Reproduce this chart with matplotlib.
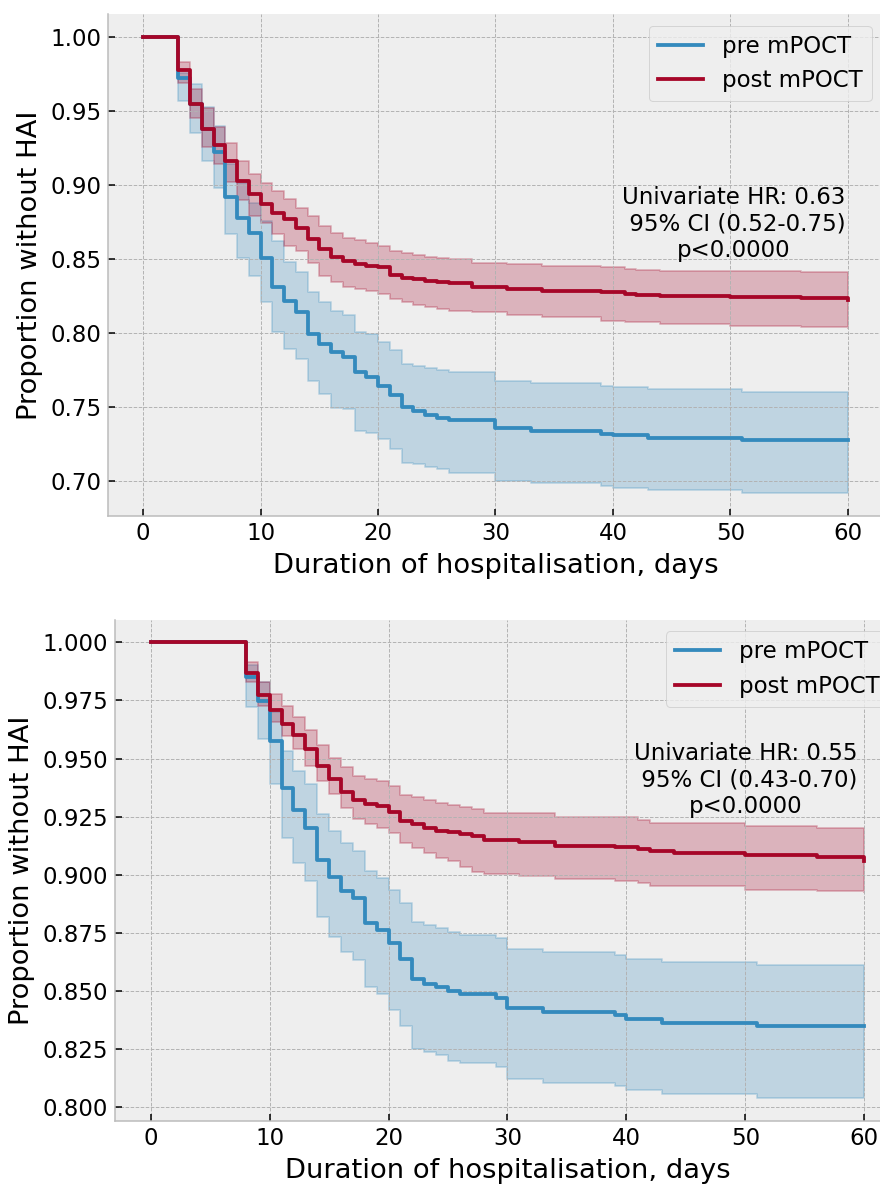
import numpy as np
import matplotlib
matplotlib.use("Agg")
import matplotlib.pyplot as plt

plt.style.use("bmh")
plt.rcParams["font.size"] = 12

t_end = 60
labels = ["pre mPOCT", "post mPOCT"]

# --- upper panel ---
top_pre_t = [0, 3, 4, 5, 6, 7, 8, 9, 10, 11, 12, 13, 14, 15, 16, 17, 18, 19, 20, 21, 22, 23, 24, 25, 26,
             30, 33, 39, 40, 43, 51]
top_pre_s = [1.0, 0.9725, 0.9545, 0.938, 0.922, 0.892, 0.878, 0.8679, 0.851, 0.8308, 0.8218, 0.814, 0.7993,
             0.7926, 0.787, 0.7836, 0.7735, 0.7701, 0.7645, 0.7578, 0.7499, 0.7476, 0.7447, 0.7429, 0.7413,
             0.7361, 0.7339, 0.7320, 0.7309, 0.7293, 0.7275]
top_pre_hi = [1.0, 0.976, 0.968, 0.9527, 0.94, 0.914, 0.9016, 0.888, 0.8757, 0.862, 0.8477, 0.841, 0.8274,
              0.8207, 0.815, 0.8121, 0.8004, 0.7993, 0.7936, 0.7884, 0.779, 0.7778, 0.7763, 0.7749, 0.7734,
              0.7677, 0.7659, 0.7643, 0.7632, 0.7621, 0.7603]
top_pre_lo = [1.0, 0.9568, 0.935, 0.916, 0.898, 0.8667, 0.851, 0.8387, 0.8207, 0.8004, 0.7891, 0.7823, 0.7677,
              0.7587, 0.7496, 0.749, 0.7339, 0.7327, 0.7282, 0.7214, 0.7124, 0.7113, 0.7095, 0.708, 0.7056,
              0.70, 0.6984, 0.6966, 0.695, 0.6937, 0.6921]

top_post_t = [0, 3, 4, 5, 6, 7, 8, 9, 10, 11, 12, 13, 14, 15, 16, 17, 18, 19, 20, 21, 22, 23, 24, 25, 26,
              28, 31, 34, 39, 41, 42, 44, 50, 56, 60]
top_post_s = [1.0, 0.978, 0.9545, 0.938, 0.927, 0.916, 0.903, 0.8937, 0.887, 0.8813, 0.8769, 0.8712, 0.8634,
              0.8566, 0.8515, 0.8488, 0.8465, 0.8454, 0.8443, 0.8393, 0.8375, 0.8364, 0.8353, 0.8346, 0.8335,
              0.8314, 0.8298, 0.8287, 0.8278, 0.8264, 0.8258, 0.8252, 0.8244, 0.8235, 0.8226]
top_post_hi = [1.0, 0.9833, 0.9646, 0.952, 0.939, 0.9286, 0.916, 0.9072, 0.9016, 0.896, 0.8903, 0.8847, 0.8791,
               0.8724, 0.8679, 0.8645, 0.8627, 0.8611, 0.8589, 0.8555, 0.8544, 0.8528, 0.8515, 0.8506, 0.850,
               0.8472, 0.8465, 0.8456, 0.8445, 0.8433, 0.8428, 0.8422, 0.8418, 0.8409, 0.8405]
top_post_lo = [1.0, 0.969, 0.945, 0.926, 0.914, 0.902, 0.890, 0.879, 0.8746, 0.8667, 0.8589, 0.8555, 0.8476,
               0.8387, 0.8342, 0.8308, 0.8297, 0.8285, 0.8263, 0.8229, 0.8207, 0.8191, 0.8178, 0.8162, 0.8152,
               0.814, 0.8125, 0.8106, 0.8079, 0.8075, 0.8072, 0.806, 0.805, 0.8043, 0.8035]

# --- lower panel ---
bot_pre_t = [0, 8, 9, 10, 11, 12, 13, 14, 15, 16, 17, 18, 19, 20, 21, 22, 23, 24, 25, 26,
             29, 30, 33, 39, 40, 43, 51]
bot_pre_s = [1.0, 0.9851, 0.9747, 0.9574, 0.9373, 0.9277, 0.920, 0.9065, 0.8988, 0.893, 0.8898, 0.8793,
             0.8762, 0.8704, 0.8639, 0.855, 0.8531, 0.8517, 0.850, 0.8486, 0.8471, 0.8428, 0.8409, 0.8395,
             0.8381, 0.8362, 0.8348]
bot_pre_hi = [1.0, 0.9901, 0.9829, 0.970, 0.9534, 0.9448, 0.939, 0.926, 0.9189, 0.9138, 0.9102, 0.9016,
              0.8987, 0.8934, 0.8877, 0.8797, 0.8783, 0.8769, 0.8754, 0.874, 0.8726, 0.8682, 0.8668, 0.8654,
              0.8639, 0.8625, 0.8611]
bot_pre_lo = [1.0, 0.9721, 0.9584, 0.939, 0.916, 0.9052, 0.8973, 0.8819, 0.8733, 0.8668, 0.8632, 0.8517,
              0.8486, 0.8416, 0.8349, 0.8251, 0.8236, 0.8222, 0.820, 0.8189, 0.8172, 0.8122, 0.8105, 0.8089,
              0.8075, 0.8057, 0.804]

bot_post_t = [0, 8, 9, 10, 11, 12, 13, 14, 15, 16, 17, 18, 19, 20, 21, 22, 23, 24, 25, 26, 27, 28,
              31, 34, 39, 41, 42, 44, 50, 56, 60]
bot_post_s = [1.0, 0.987, 0.9772, 0.9707, 0.965, 0.960, 0.954, 0.9466, 0.941, 0.9358, 0.932, 0.9304, 0.9297,
              0.9272, 0.9231, 0.9217, 0.9202, 0.919, 0.9183, 0.9175, 0.9168, 0.9151, 0.9139, 0.9125, 0.9119,
              0.9111, 0.9101, 0.9093, 0.9083, 0.9076, 0.9058]
bot_post_hi = [1.0, 0.9916, 0.9829, 0.9779, 0.9724, 0.9678, 0.9623, 0.956, 0.9502, 0.9462, 0.9426, 0.9412,
               0.9402, 0.9383, 0.9344, 0.9333, 0.9321, 0.9307, 0.930, 0.929, 0.9283, 0.9266, 0.9266, 0.9249,
               0.9249, 0.9237, 0.9223, 0.9223, 0.9211, 0.9201, 0.9198]
bot_post_lo = [1.0, 0.9829, 0.9728, 0.9656, 0.9599, 0.9541, 0.9469, 0.9405, 0.9347, 0.9289, 0.9239, 0.9217,
               0.9203, 0.9181, 0.9138, 0.9117, 0.9095, 0.9073, 0.906, 0.9035, 0.901, 0.9003, 0.8996, 0.8981,
               0.8971, 0.8964, 0.8953, 0.895, 0.8935, 0.8931, 0.8925]

top_note = "Univariate HR: 0.63\n 95% CI (0.52-0.75)\np<0.0000"
bot_note = "Univariate HR: 0.55\n 95% CI (0.43-0.70)\np<0.0000"

colors = ["#348ABD", "#A60628"]


def km_curve(ax, t, s, lo, hi, color, label):
    t, s, lo, hi = list(t), list(s), list(lo), list(hi)
    if t[-1] < t_end:
        t.append(t_end); s.append(s[-1]); lo.append(lo[-1]); hi.append(hi[-1])
    ax.plot(t, s, drawstyle="steps-post", color=color, label=label)
    ax.fill_between(t, lo, hi, step="post", color=color, alpha=0.25, linewidth=1.0)


dpi = 137
fig = plt.figure(figsize=(880 / dpi, 1184 / dpi), dpi=dpi)
ax1 = fig.add_axes([0.1227, 0.5646, 0.8807, 0.4234])
ax2 = fig.add_axes([0.1307, 0.0536, 0.892, 0.4231])

km_curve(ax1, top_pre_t, top_pre_s, top_pre_lo, top_pre_hi, colors[0], labels[0])
km_curve(ax1, top_post_t, top_post_s, top_post_lo, top_post_hi, colors[1], labels[1])
ax1.text(50.3, 0.8736, top_note, ha="center", va="center", multialignment="center")

km_curve(ax2, bot_pre_t, bot_pre_s, bot_pre_lo, bot_pre_hi, colors[0], labels[0])
km_curve(ax2, bot_post_t, bot_post_s, bot_post_lo, bot_post_hi, colors[1], labels[1])
ax2.text(50.05, 0.9407, bot_note, ha="center", va="center", multialignment="center")

for ax in (ax1, ax2):
    ax.set_xlabel("Duration of hospitalisation, days")
    ax.set_ylabel("Proportion without HAI")
    ax.legend(loc="upper right")
    ax.spines["top"].set_visible(False)
    ax.spines["right"].set_visible(False)

ax2.yaxis.set_major_formatter(matplotlib.ticker.FormatStrFormatter("%.3f"))

fig.savefig("out.png", dpi=dpi)
